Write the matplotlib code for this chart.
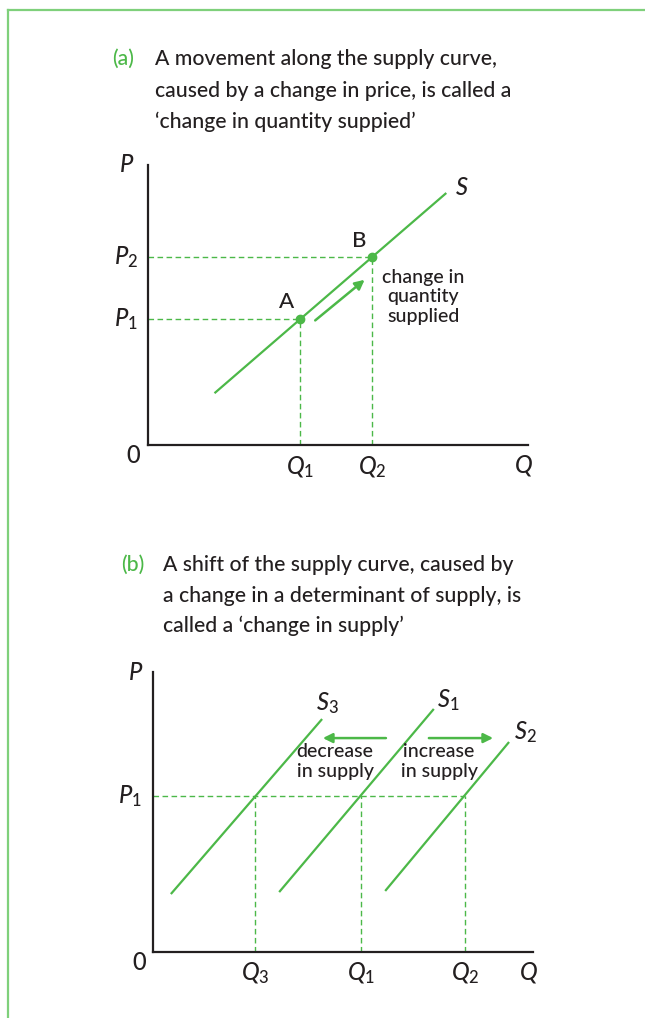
import numpy as np
import matplotlib
matplotlib.use('Agg')
import matplotlib.pyplot as plt
from matplotlib.lines import Line2D

plt.rcParams['font.family'] = ['Lato', 'DejaVu Sans']
plt.rcParams['font.weight'] = 'medium'
plt.rcParams['mathtext.fontset'] = 'custom'
plt.rcParams['mathtext.it'] = 'Lato:italic:medium'
plt.rcParams['mathtext.rm'] = 'Lato:medium'

GREEN = '#4cb848'
FRAME = '#7fd07b'
INK = '#231f20'

# panel (a): movement along the supply curve
s_q = [1.75, 7.85]
s_p = [1.85, 9.0]
q_a = [4.0, 5.9]      # Q1, Q2
p_a = [4.5, 6.7]      # P1, P2
pt_names = ['A', 'B']
move_q = [4.4, 5.7]
move_p = [4.45, 5.9]

# panel (b): shifts of the supply curve
s3_q, s3_p = [0.47, 4.45], [2.07, 8.32]
s1_q, s1_p = [3.32, 7.39], [2.14, 8.68]
s2_q, s2_p = [6.11, 9.37], [2.18, 7.5]
p_b = 5.57
q_b = [2.68, 5.47, 8.22]   # Q3, Q1, Q2
q_b_labels = [r'$Q_3$', r'$Q_1$', r'$Q_2$']
shift_y = 7.64
dec_q = [6.13, 4.47]
inc_q = [7.26, 8.95]

W, H = 645, 1018
fig = plt.figure(figsize=(W / 100, H / 100), dpi=100)

# green frame
fig.add_artist(Line2D([7.5 / W, 1], [1 - 10 / H, 1 - 10 / H], transform=fig.transFigure, color=FRAME, lw=1.6))
fig.add_artist(Line2D([7.5 / W, 7.5 / W], [0, 1 - 10 / H], transform=fig.transFigure, color=FRAME, lw=1.6))

def title(x_tag, x_txt, tag, lines, baselines):
    fig.text(x_tag / W, 1 - baselines[0] / H, tag, color=GREEN, fontsize=15.2, va='baseline')
    for ln, b in zip(lines, baselines):
        fig.text(x_txt / W, 1 - b / H, ln, color=INK, fontsize=15.2, va='baseline')

title(112, 155, '(a)', ['A movement along the supply curve,',
                        'caused by a change in price, is called a',
                        '\u2018change in quantity suppied\u2019'], [65, 97, 128])
title(121, 163, '(b)', ['A shift of the supply curve, caused by',
                        'a change in a determinant of supply, is',
                        'called a \u2018change in supply\u2019'], [571, 602, 632])

def setup(ax):
    ax.set_xlim(0, 10)
    ax.set_ylim(0, 10)
    for s in ['top', 'right']:
        ax.spines[s].set_visible(False)
    for s in ['left', 'bottom']:
        ax.spines[s].set_linewidth(1.6)
        ax.spines[s].set_color(INK)
    ax.set_xticks([])
    ax.set_yticks([])
    ax.patch.set_alpha(0)

dash = dict(color=GREEN, lw=1.0, ls=(0, (4, 2.5)))
lab = dict(fontsize=17, color=INK, ha='center', va='center', clip_on=False)
lab_r = dict(fontsize=17, color=INK, ha='right', va='center', clip_on=False)
arr = dict(arrowstyle='-|>', color=GREEN, lw=1.8, mutation_scale=14, shrinkA=0, shrinkB=0)
note = dict(fontsize=14, color=INK, ha='center', va='center', linespacing=1.2)

# ----- panel (a)
ax1 = fig.add_axes([148 / W, 1 - 445 / H, 380 / W, 280 / H])
setup(ax1)
ax1.plot(s_q, s_p, color=GREEN, lw=1.6, solid_capstyle='butt')
for q, p in zip(q_a, p_a):
    ax1.plot([0, q], [p, p], **dash)
    ax1.plot([q, q], [0, p], **dash)
ax1.plot(q_a, p_a, 'o', color=GREEN, ms=6)
ax1.annotate('', xy=(move_q[1], move_p[1]), xytext=(move_q[0], move_p[0]), arrowprops=arr)
for (q, p), nm in zip(zip(q_a, p_a), pt_names):
    ax1.text(q - 0.35, p + 0.6, nm, fontsize=16, color=INK, ha='center', va='center')
ax1.text(7.24, 5.29, 'change in\nquantity\nsupplied', **note)
ax1.text(8.26, 9.21, r'$S$', **lab)
ax1.text(-0.55, 10.0, r'$P$', **lab)
ax1.text(-0.27, p_a[1], r'$P_2$', **lab_r)
ax1.text(-0.27, p_a[0], r'$P_1$', **lab_r)
ax1.text(-0.39, -0.36, '0', **lab)
ax1.text(q_a[0], -0.8, r'$Q_1$', **lab)
ax1.text(q_a[1], -0.8, r'$Q_2$', **lab)
ax1.text(9.87, -0.75, r'$Q$', **lab)

# ----- panel (b)
ax2 = fig.add_axes([153 / W, 1 - 952 / H, 380 / W, 280 / H])
setup(ax2)
for qq, pp in [(s3_q, s3_p), (s1_q, s1_p), (s2_q, s2_p)]:
    ax2.plot(qq, pp, color=GREEN, lw=1.6, solid_capstyle='butt')
ax2.plot([0, max(q_b)], [p_b, p_b], **dash)
for q, l in zip(q_b, q_b_labels):
    ax2.plot([q, q], [0, p_b], **dash)
    ax2.text(q, -0.75, l, **lab)
ax2.annotate('', xy=(dec_q[1], shift_y), xytext=(dec_q[0], shift_y), arrowprops=arr)
ax2.annotate('', xy=(inc_q[1], shift_y), xytext=(inc_q[0], shift_y), arrowprops=arr)
ax2.text(4.79, 6.79, 'decrease\nin supply', **note)
ax2.text(7.53, 6.79, 'increase\nin supply', **note)
ax2.text(4.58, 8.89, r'$S_3$', **lab)
ax2.text(7.76, 9.0, r'$S_1$', **lab)
ax2.text(9.79, 7.86, r'$S_2$', **lab)
ax2.text(-0.45, 10.0, r'$P$', **lab)
ax2.text(-0.29, p_b, r'$P_1$', **lab_r)
ax2.text(-0.37, -0.39, '0', **lab)
ax2.text(9.87, -0.72, r'$Q$', **lab)

fig.savefig('out.png', dpi=100)
